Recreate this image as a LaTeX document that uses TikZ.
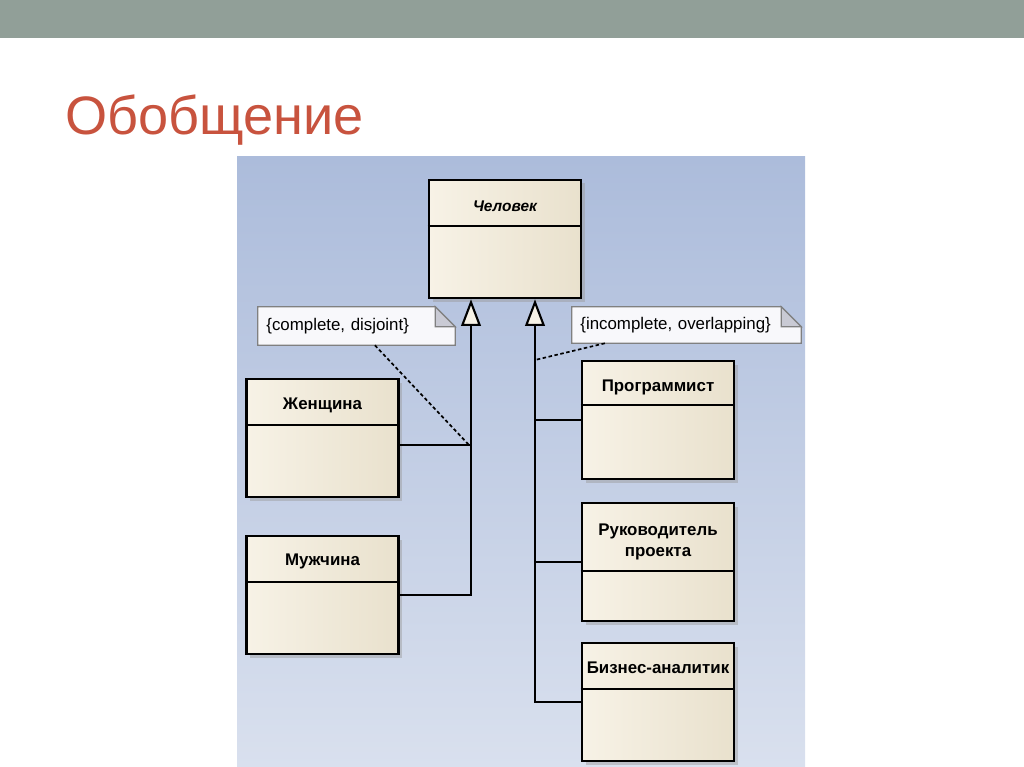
\documentclass[tikz,border=0pt]{standalone}
\usepackage{fontspec}
\setmainfont{Liberation Sans}
\usetikzlibrary{arrows.meta,shadows,backgrounds}
\definecolor{barcol}{HTML}{919F98}
\definecolor{titlecol}{HTML}{C8533E}
\definecolor{paneltop}{HTML}{ACBCDB}
\definecolor{panelbot}{HTML}{D9E0EE}
\definecolor{clsL}{HTML}{F7F2E6}
\definecolor{clsR}{HTML}{E9E1CD}
\definecolor{notefill}{HTML}{F8F8FB}
\definecolor{notefold}{HTML}{C9CAD4}
\tikzset{
  cls/.style={draw=black, line width=1.8pt, left color=clsL, right color=clsR,
    minimum width=3.8cm, minimum height=2.95cm, inner sep=0pt,
    drop shadow={shadow xshift=2.5pt, shadow yshift=-2.5pt, fill=black!40, opacity=0.45}},
  clsname/.style={font=\fontsize{12}{14.5}\selectfont\bfseries, align=center, inner sep=1pt},
  sep/.style={line width=1.6pt},
  note/.style={minimum height=0.95cm, inner ysep=0pt, inner xsep=0.21cm, align=left,
    font=\fontsize{12}{13.5}\selectfont},
  notebd/.style={draw=black!50, line width=0.9pt, fill=notefill},
  gen/.style={line width=1.5pt},
  genarrow/.style={gen, -{Triangle[length=19pt,width=14pt,fill=clsL]}},
  constraint/.style={line width=1.2pt, dash pattern=on 2.5pt off 1.8pt}
}
\begin{document}
\begin{tikzpicture}[x=0.025cm,y=-0.025cm]
    \useasboundingbox (0,0) rectangle (1024,767);
    % Верхняя полоса и заголовок
    \fill[barcol] (0,0) rectangle (1024,38);
    \node[anchor=base west, text=titlecol, font=\fontsize{38.5}{46}\selectfont, inner sep=0pt] (title) at (65,135) {Обобщение};

    % Классы
    \node[cls] (person) at (505,239) {};
    \node[cls] (woman) at (322.5,438) {};
    \node[cls] (man) at (322.5,595) {};
    \node[cls] (prog) at (658,420) {};
    \node[cls] (lead) at (658,562) {};
    \node[cls] (ba) at (658,702) {};

    % Разделители
    \foreach \c/\y in {person/226, woman/425, man/582, prog/405, lead/571, ba/689}
    \draw[sep] (\c.west |- 0,\y) -- (\c.east |- 0,\y);

    % Имена классов
    \node[clsname, font=\fontsize{11}{13}\selectfont\bfseries\itshape] (personname) at (505,206) {Человек};
    \node[clsname] (womanname) at (322.5,405) {Женщина};
    \node[clsname] (manname) at (322.5,561) {Мужчина};
    \node[clsname] (progname) at (658,387) {Программист};
    \node[clsname] (leadname) at (658,542) {Руководитель\\проекта};
    \node[clsname] (baname) at (658,668) {Бизнес-аналитик};

    % Ограничения
    \node[note, text width=4.505cm] (cdnote) at (356.5,326) {\{complete, disjoint\}};
    \node[note, text width=5.305cm, minimum height=0.9cm] (ionote) at (686.5,325) {\{incomplete, overlapping\}};

    % Обобщение
    \coordinate (jw) at (471,445);
    \coordinate (jr) at (535,420);
    \coordinate (ovl) at (535,360);
    \draw[genarrow] (man.east) -| (person.south -| jw);
    \draw[gen] (woman.east |- jw) -- (jw);
    \draw[genarrow] (ba.west) -| (person.south -| jr);
    \draw[gen] (prog.west) -- (jr);
    \draw[gen] (lead.west) -- (lead.west -| jr);

    \draw[constraint] ([xshift=0.46cm]cdnote.south) -- ([xshift=-0.05cm]jw);
    \draw[constraint] ([xshift=-2.04cm]ionote.south) -- (ovl);

    \begin{scope}[on background layer]
    \shade[top color=paneltop, bottom color=panelbot] (237,157) rectangle (805,767);
    \foreach \n in {cdnote, ionote} {
      \draw[notebd] (\n.south west) -- (\n.north west) -- ([xshift=-0.5cm]\n.north east)
        -- ([yshift=-0.5cm]\n.north east) -- (\n.south east) -- cycle;
      \filldraw[notebd, fill=notefold] ([xshift=-0.5cm]\n.north east) -- ([xshift=-0.5cm,yshift=-0.5cm]\n.north east)
        -- ([yshift=-0.5cm]\n.north east) -- cycle;
    }
    \end{scope}
\end{tikzpicture}
\end{document}
